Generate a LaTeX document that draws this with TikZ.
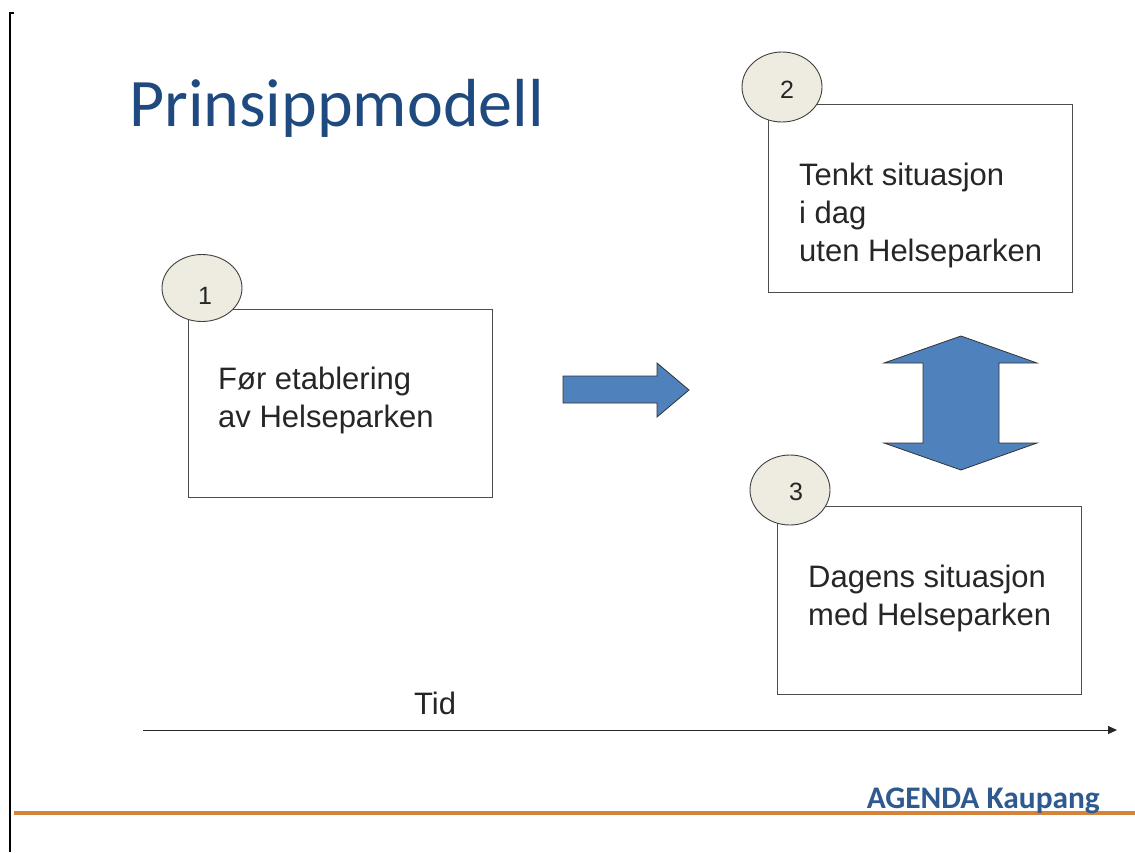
\documentclass[tikz,border=0pt]{standalone}
\usepackage{fontspec}
\setmainfont{Liberation Sans}
\newfontfamily\calib{Carlito}
\usetikzlibrary{arrows.meta}
\definecolor{titleblue}{HTML}{1F4A80}
\definecolor{agendablue}{HTML}{2E5A90}
\definecolor{shapeblue}{HTML}{4F81BD}
\definecolor{circfill}{HTML}{EEEBE0}
\definecolor{txtgray}{HTML}{262626}
\definecolor{orangeline}{HTML}{D5823A}
\tikzset{
  box/.style={draw=black!70, line width=1pt, fill=white},
  numcirc/.style={draw=black!75, line width=0.9pt, fill=circfill},
  boxtext/.style={font=\fontsize{31}{38}\selectfont, text=txtgray, align=left, inner sep=0pt, anchor=base west},
  numtext/.style={font=\fontsize{25}{28}\selectfont, text=txtgray, inner sep=0pt},
  bigarrow/.style={draw=black!80, line width=0.8pt, fill=shapeblue, line join=miter},
}
\begin{document}
\begin{tikzpicture}[x=1pt,y=-1pt]
\useasboundingbox (0,0) rectangle (1135,852);
\fill[white] (0,0) rectangle (1135,852);
% left frame line
\draw[line width=2pt] (14,13) -- (10,13) -- (10,852);
% orange line
\draw[orangeline, line width=4pt] (14,813) -- (1135,813);
% title
\node[font=\calib\fontsize{68}{72}\selectfont, text=titleblue, anchor=base west, inner sep=0pt] (title) at (129,126) {Prinsippmodell};
% boxes
\draw[box] (188,309) rectangle (492,497);
\draw[box] (768,104) rectangle (1072,292);
\draw[box] (777,506) rectangle (1081,694);
% (base anchor of a multi-line node = baseline of its last line)
\node[boxtext] (t1) at (218,427) {Før etablering\\av Helseparken};
\node[boxtext] (t2) at (799,261) {Tenkt situasjon\\i dag\\uten Helseparken};
\node[boxtext] (t3) at (808,625) {Dagens situasjon\\med Helseparken};
% number circles
\filldraw[numcirc] (202,288) ellipse [x radius=40, y radius=33.5];
\node[numtext] (n1) at (205,296) {1};
\filldraw[numcirc] (782,87) ellipse [x radius=40, y radius=35];
\node[numtext] (n2) at (787,90) {2};
\filldraw[numcirc] (790,490) ellipse [x radius=40, y radius=35];
\node[numtext] (n3) at (796,492) {3};
% right arrow
\draw[bigarrow] (563,376) -- (657,376) -- (657,363) -- (689,390) -- (657,417) -- (657,403) -- (563,403) -- cycle;
% double arrow
\draw[bigarrow] (961,336) -- (1037,363) -- (999,363) -- (999,443) -- (1037,443) -- (961,470) -- (884,443) -- (923,443) -- (923,363) -- (884,363) -- cycle;
% time axis
\coordinate (ax0) at (143,730);
\coordinate (ax1) at (1117,730);
\draw[line width=1pt, black!85, -{Triangle[length=9pt,width=8pt]}] (ax0) -- (ax1);
\node[font=\fontsize{31}{36}\selectfont, text=txtgray, anchor=base west, inner sep=0pt] (tid) at (414,714) {Tid};
% footer
\node[font=\calib\bfseries\fontsize{31.4}{34}\selectfont, text=agendablue, anchor=base east, inner sep=0pt] (agenda) at (1100,808) {AGENDA Kaupang};
\end{tikzpicture}
\end{document}
